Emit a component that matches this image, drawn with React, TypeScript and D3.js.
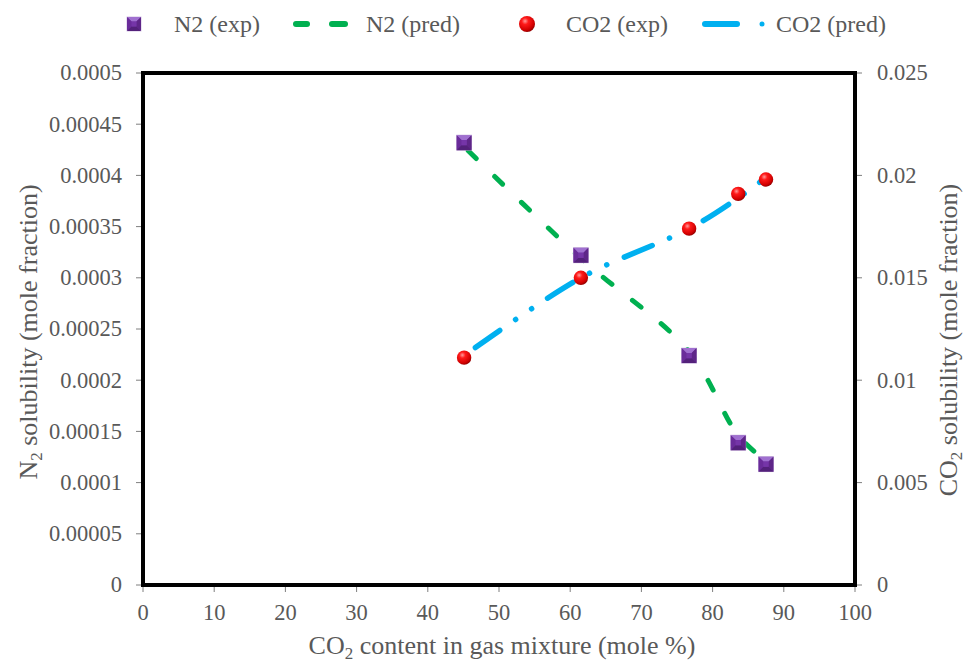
import * as d3 from 'd3';

const W = 967;
const H = 663;

const co2Content = [45.1, 61.5, 76.7, 83.6, 87.5];
const n2Exp = [0.000432, 0.000322, 0.000224, 0.000139, 0.000118];
const n2Pred = [0.000428, 0.000319, 0.000228, 0.000146, 0.000121];
const co2Exp = [0.0111, 0.0150, 0.0174, 0.0191, 0.0198];
const co2Pred = [0.0112, 0.0150, 0.0174, 0.0189, 0.0199];

const xTicks = [0, 10, 20, 30, 40, 50, 60, 70, 80, 90, 100];
const leftTicks = [0, 0.00005, 0.0001, 0.00015, 0.0002, 0.00025, 0.0003, 0.00035, 0.0004, 0.00045, 0.0005];
const rightTicks = [0, 0.005, 0.01, 0.015, 0.02, 0.025];

const FONT = "'Liberation Serif', 'Times New Roman', serif";
const TEXT = '#595959';
const GREEN = '#00b050';
const BLUE = '#00b0f0';
const TICK_SIZE = 22.5;
const TITLE_SIZE = 26;

const margin = { top: 73, right: 112, bottom: 78, left: 143 };
const innerW = W - margin.left - margin.right;
const innerH = H - margin.top - margin.bottom;

function Square({ cx, cy, s = 7.5 }: { cx: number; cy: number; s?: number }) {
  const a = s * 0.35;
  return (
    <g transform={`translate(${cx},${cy})`}>
      <rect x={-s} y={-s} width={2 * s} height={2 * s} fill="#7030a0" stroke="#c9b3dc" strokeWidth={0.8} />
      <path d={`M${-s},${-s}L${s},${-s}L${a},${-a}L${-a},${-a}Z`} fill="#a070d0" />
      <path d={`M${-s},${-s}L${-a},${-a}L${-a},${a}L${-s},${s}Z`} fill="#6a2c9a" />
      <path d={`M${s},${-s}L${a},${-a}L${a},${a}L${s},${s}Z`} fill="#5e2688" />
      <path d={`M${-s},${s}L${-a},${a}L${a},${a}L${s},${s}Z`} fill="#53217a" />
      <rect x={-a} y={-a} width={2 * a} height={2 * a} fill="#7535a8" />
    </g>
  );
}

function Ball({ cx, cy, r = 7.2 }: { cx: number; cy: number; r?: number }) {
  return <circle cx={cx} cy={cy} r={r} fill="url(#ballGrad)" />;
}

function fmt(v: number) {
  return String(+v.toPrecision(6));
}

export default function App() {
  const x = d3.scaleLinear().domain([0, 100]).range([0, innerW]);
  const yL = d3.scaleLinear().domain([0, 0.0005]).range([innerH, 0]);
  const yR = d3.scaleLinear().domain([0, 0.025]).range([innerH, 0]);

  const n2Line = d3
    .line<number>()
    .x((_, i) => x(co2Content[i]))
    .y((d) => yL(d))
    .curve(d3.curveCatmullRom.alpha(0.5));
  const co2Line = d3
    .line<number>()
    .x((_, i) => x(co2Content[i]))
    .y((d) => yR(d))
    .curve(d3.curveCatmullRom.alpha(0.5));

  const legendY = 24;

  return (
    <svg
      width={W}
      height={H}
      style={{ position: 'absolute', left: 0, top: 0, background: '#fff', fontFamily: FONT }}
    >
      <defs>
        <radialGradient id="ballGrad" cx="0.38" cy="0.32" r="0.7">
          <stop offset="0" stopColor="#ff9a9a" />
          <stop offset="0.3" stopColor="#ff1a1a" />
          <stop offset="0.8" stopColor="#d00000" />
          <stop offset="1" stopColor="#900000" />
        </radialGradient>
      </defs>

      {/* legend */}
      <g fontSize={24} fill={TEXT}>
        <Square cx={134} cy={legendY} s={7} />
        <text x={174} y={legendY + 8}>N2 (exp)</text>
        <line x1={296} x2={307} y1={legendY} y2={legendY} stroke={GREEN} strokeWidth={6} strokeLinecap="round" />
        <line x1={332} x2={345} y1={legendY} y2={legendY} stroke={GREEN} strokeWidth={6} strokeLinecap="round" />
        <text x={366} y={legendY + 8}>N2 (pred)</text>
        <Ball cx={527} cy={legendY} r={8} />
        <text x={566} y={legendY + 8}>CO2 (exp)</text>
        <line x1={705} x2={737} y1={legendY} y2={legendY} stroke={BLUE} strokeWidth={6} strokeLinecap="round" />
        <circle cx={762} cy={legendY} r={2.5} fill={BLUE} />
        <text x={776} y={legendY + 8}>CO2 (pred)</text>
      </g>

      <g transform={`translate(${margin.left},${margin.top})`}>
        {/* left axis ticks */}
        <g fontSize={TICK_SIZE} fill={TEXT} textAnchor="end">
          {leftTicks.map((t) => (
            <g key={t} transform={`translate(0,${yL(t)})`}>
              <line x1={-7} x2={0} stroke="#7f7f7f" strokeWidth={1} />
              <text x={-21} dy="0.33em">{fmt(t)}</text>
            </g>
          ))}
        </g>
        {/* right axis ticks */}
        <g fontSize={TICK_SIZE} fill={TEXT} textAnchor="start">
          {rightTicks.map((t) => (
            <g key={t} transform={`translate(${innerW},${yR(t)})`}>
              <line x1={0} x2={7} stroke="#7f7f7f" strokeWidth={1} />
              <text x={22} dy="0.33em">{fmt(t)}</text>
            </g>
          ))}
        </g>
        {/* bottom axis ticks */}
        <g fontSize={TICK_SIZE} fill={TEXT} textAnchor="middle">
          {xTicks.map((t) => (
            <g key={t} transform={`translate(${x(t)},${innerH})`}>
              <line y1={0} y2={7} stroke="#7f7f7f" strokeWidth={1} />
              <text y={35}>{t}</text>
            </g>
          ))}
        </g>

        {/* plot frame */}
        <rect x={0} y={0} width={innerW} height={innerH} fill="none" stroke="#000" strokeWidth={4} />

        {/* predicted lines */}
        <path d={n2Line(n2Pred) ?? ''} fill="none" stroke={GREEN} strokeWidth={5} strokeLinecap="round" strokeDasharray="11,26" strokeDashoffset={-6} />
        <path
          d={co2Line(co2Pred) ?? ''}
          fill="none"
          stroke={BLUE}
          strokeWidth={5.5}
          strokeLinecap="round"
          strokeDasharray="30,19,0.1,19,0.1,19"
          strokeDashoffset={-14}
        />

        {/* experimental points */}
        {n2Exp.map((v, i) => (
          <Square key={`n${i}`} cx={x(co2Content[i])} cy={yL(v)} />
        ))}
        {co2Exp.map((v, i) => (
          <Ball key={`c${i}`} cx={x(co2Content[i])} cy={yR(v)} />
        ))}
      </g>

      {/* axis titles */}
      <text x={502} y={654} textAnchor="middle" fontSize={TITLE_SIZE} fill={TEXT}>
        CO<tspan fontSize={17} dy={5}>2</tspan>
        <tspan dy={-5}> content in gas mixture (mole %)</tspan>
      </text>
      <text
        transform={`translate(37,332) rotate(-90)`}
        textAnchor="middle"
        fontSize={TITLE_SIZE}
        fill={TEXT}
      >
        N<tspan fontSize={17} dy={5}>2</tspan>
        <tspan dy={-5}> solubility (mole fraction)</tspan>
      </text>
      <text
        transform={`translate(957,340) rotate(-90)`}
        textAnchor="middle"
        fontSize={TITLE_SIZE}
        fill={TEXT}
      >
        CO<tspan fontSize={17} dy={5}>2</tspan>
        <tspan dy={-5}> solubility (mole fraction)</tspan>
      </text>
    </svg>
  );
}
